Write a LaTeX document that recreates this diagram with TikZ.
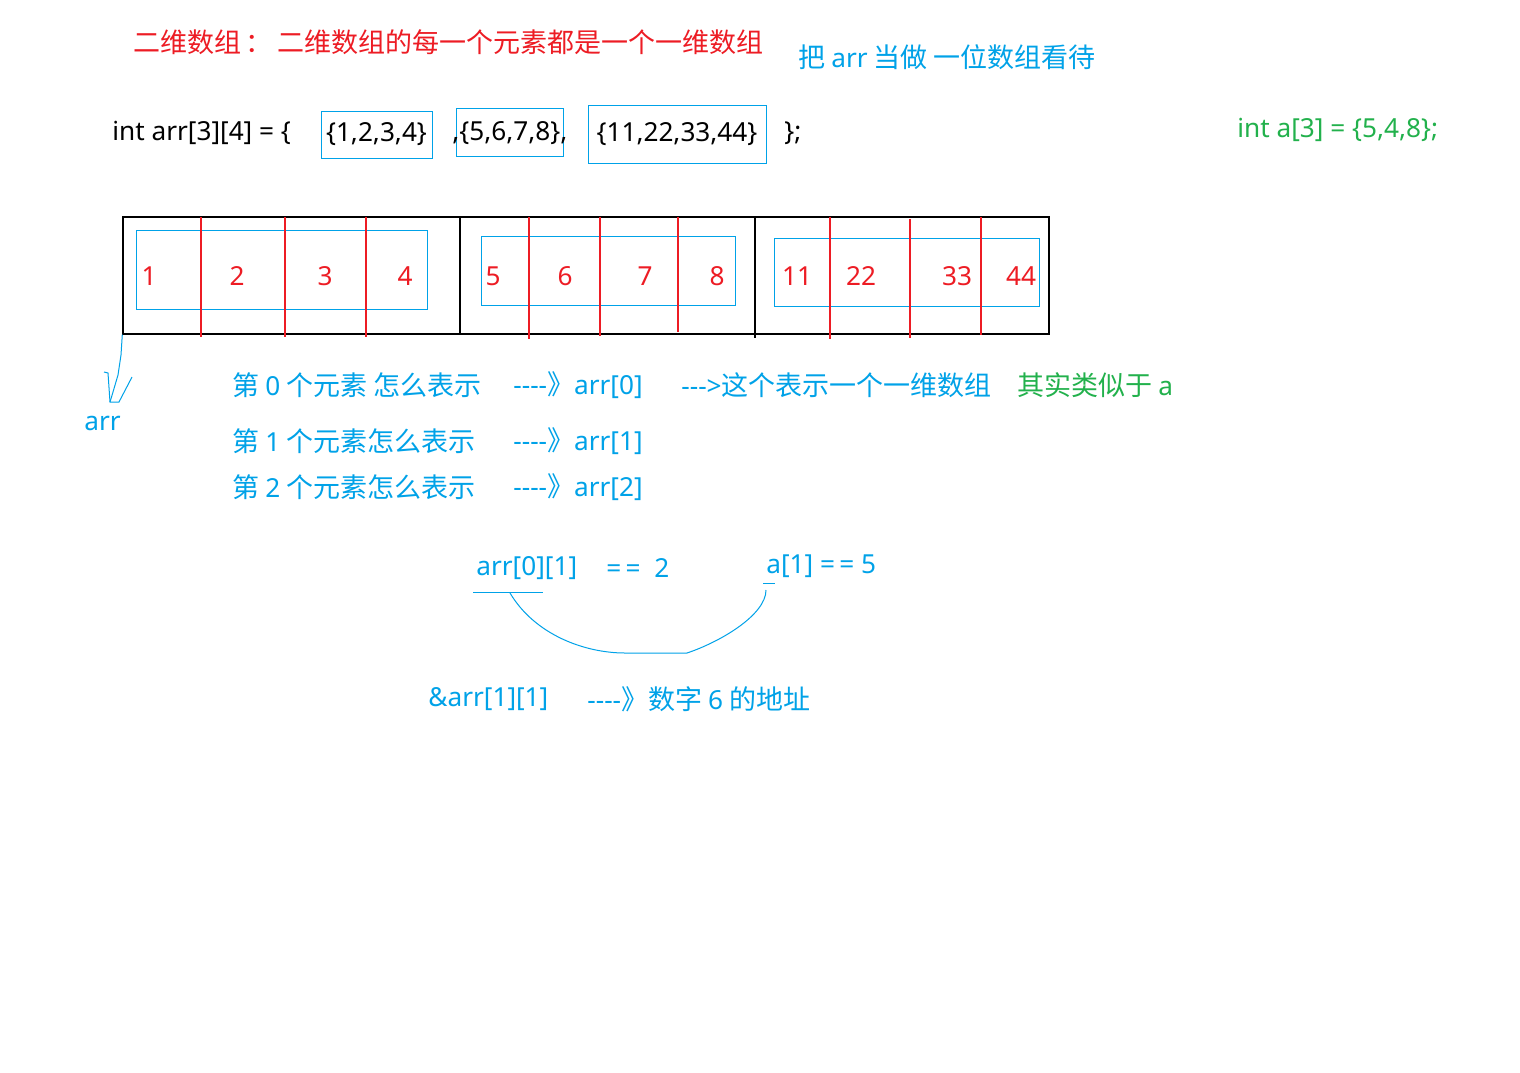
\documentclass[tikz,border=0pt]{standalone}
\usepackage{fontspec}
\setmainfont{Noto Sans CJK SC}
\newfontfamily\lat{Noto Sans}[Scale=0.97]
\definecolor{pred}{RGB}{237,28,36}
\definecolor{pblue}{RGB}{0,162,232}
\definecolor{pgreen}{RGB}{34,177,76}
\begin{document}
\begin{tikzpicture}[x=0.5pt,y=-0.5pt,
  txt/.style={anchor=west, inner sep=0pt, font=\fontsize{13.5pt}{16pt}\selectfont},
  ltxt/.style={anchor=west, inner sep=0pt, font=\lat\fontsize{13.5pt}{16pt}\selectfont},
  ctxt/.style={inner sep=0pt, font=\lat\fontsize{13.5pt}{16pt}\selectfont},
  bluebox/.style={draw=pblue, line width=0.5pt, inner sep=0pt},
  num/.style={inner sep=0pt, text=pred, font=\lat\fontsize{13.5pt}{16pt}\selectfont},
  redline/.style={draw=pred, line width=0.7pt},
  blueline/.style={draw=pblue, line width=0.5pt}]
\useasboundingbox[fill=white] (0,0) rectangle (1520,1072);
% header
\node[txt, text=pred] (title) at (133,42) {二维数组\,：\,二维数组的每一个元素都是一个一维数组};
\node[txt, text=pblue] (asone) at (798,57) {把 {\lat arr} 当做 一位数组看待};
% declaration
\node[ltxt] (decl) at (112,133) {int arr[3][4] = \{};
\node[bluebox, minimum width=55.5pt, minimum height=23.5pt, ctxt] (g1) at (376.5,134.5) {\{1,2,3,4\}};
\node[bluebox, minimum width=53.5pt, minimum height=24pt] (g2) at (509.5,132) {};
\node[ltxt] (g2t) at (452,133) {,\{5,6,7,8\},};
\node[bluebox, minimum width=89pt, minimum height=29pt, ctxt] (g3) at (677,134) {\{11,22,33,44\}};
\node[ltxt] (close) at (784,133) {\};};
\node[ltxt, text=pgreen] (inta) at (1237,130) {int a[3] = \{5,4,8\};};
% memory array
\node[draw=black, line width=0.7pt, minimum width=463pt, minimum height=58.5pt, inner sep=0pt] (mem) at (586,275.5) {};
\draw[line width=0.7pt] (460,217) -- (460,334);
\draw[line width=0.7pt] (755,217) -- (755,338);
\node[bluebox, minimum width=145.5pt, minimum height=39.5pt] (row0) at (281.5,269.5) {};
\node[bluebox, minimum width=127pt, minimum height=34.5pt] (row1) at (608,270.5) {};
\node[bluebox, minimum width=132.5pt, minimum height=34pt] (row2) at (906.5,272) {};
\foreach \x/\a/\b in {201/217/337, 285/217/337, 366/217/337, 529/217/339, 600/217/336, 678/217/332, 830/217/339, 910/219/338, 981/217/335}
  \draw[redline] (\x,\a) -- (\x,\b);
\node[num] (n1) at (149,276) {1};
\node[num] (n2) at (237,276) {2};
\node[num] (n3) at (325,276) {3};
\node[num] (n4) at (405,276) {4};
\node[num] (n5) at (493,276) {5};
\node[num] (n6) at (565,276) {6};
\node[num] (n7) at (645,276) {7};
\node[num] (n8) at (717,276) {8};
\node[num] (n11) at (797,276) {11};
\node[num] (n22) at (861,276) {22};
\node[num] (n33) at (957,276) {33};
\node[num] (n44) at (1021,276) {44};
% arr pointer
\node[ltxt, text=pblue] (arrlbl) at (84,423) {arr};
\coordinate (tip) at (110,402);
\draw[blueline] (mem.south west) -- (121,355) -- (118,375) -- (113,392) -- (tip);
\draw[blueline] (104,372) -- (108,373) -- (tip) -- (119,402) -- (132,377);
% explanation rows
\node[txt, text=pblue] (r0a) at (232,385) {第 {\lat 0} 个元素 怎么表示};
\node[txt, text=pblue] (r0b) at (513,385) {{\lat -{}-{}-{}-}》{\lat arr[0]}};
\node[txt, text=pblue] (r0c) at (681,385) {{\lat -{}-{}->}这个表示一个一维数组};
\node[txt, text=pgreen] (r0d) at (1017,385) {其实类似于 {\lat a}};
\node[txt, text=pblue] (r1a) at (232,441) {第 {\lat 1} 个元素怎么表示};
\node[txt, text=pblue] (r1b) at (513,441) {{\lat -{}-{}-{}-}》{\lat arr[1]}};
\node[txt, text=pblue] (r2a) at (232,487) {第 {\lat 2} 个元素怎么表示};
\node[txt, text=pblue] (r2b) at (513,487) {{\lat -{}-{}-{}-}》{\lat arr[2]}};
% comparison
\node[ltxt, text=pblue] (e1) at (476,568) {arr[0][1]};
\node[ltxt, text=pblue] (e1b) at (606,568) {=\,=\ \ 2};
\node[ltxt, text=pblue] (e2) at (766,566) {a[1] =\,= 5};
\coordinate (u1a) at (473,592);
\coordinate (u1b) at (543,592);
\coordinate (u2a) at (763,583);
\coordinate (u2b) at (775,583);
\draw[blueline] (u1a) -- (u1b);
\draw[blueline] (u2a) -- (u2b);
\coordinate (cs) at (510,593);
\coordinate (ce) at (766,590);
\draw[blueline] (cs) .. controls (535,635) and (585,653) .. (625,653) -- (687,653) .. controls (720,642) and (766,615) .. (ce);
% address
\node[ltxt, text=pblue] (addr) at (428,699) {\&arr[1][1]};
\node[txt, text=pblue] (addrb) at (587,699) {{\lat -{}-{}-{}-}》数字 {\lat 6} 的地址};
\end{tikzpicture}
\end{document}
